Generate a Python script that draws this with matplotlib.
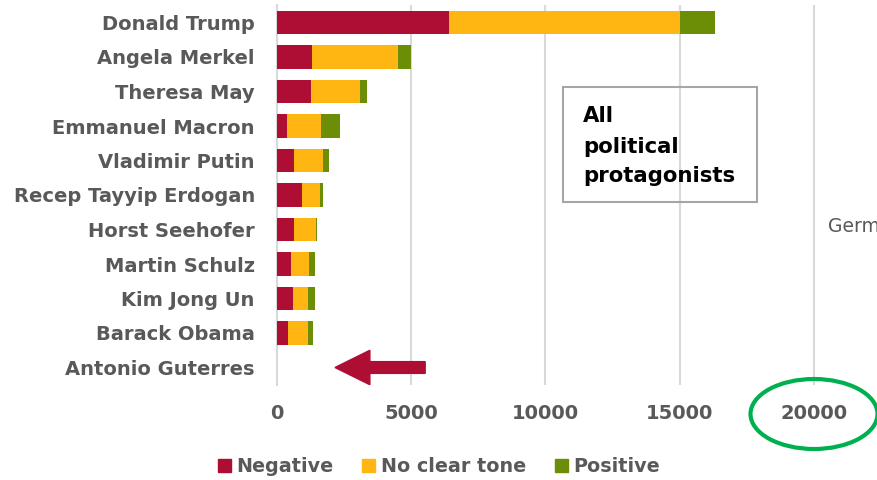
import matplotlib
matplotlib.use('Agg')
import matplotlib.pyplot as plt
from matplotlib.patches import Patch, Ellipse, FancyArrow, Rectangle

names = ['Donald Trump', 'Angela Merkel', 'Theresa May', 'Emmanuel Macron',
         'Vladimir Putin', 'Recep Tayyip Erdogan', 'Horst Seehofer',
         'Martin Schulz', 'Kim Jong Un', 'Barack Obama', 'Antonio Guterres']
negative = [6400, 1300, 1250, 370, 630, 930, 630, 510, 600, 410, 0]
no_tone = [8630, 3190, 1840, 1260, 1080, 690, 810, 700, 550, 730, 0]
positive = [1290, 510, 260, 720, 240, 90, 50, 210, 260, 200, 0]
xticks = [0, 5000, 10000, 15000, 20000]

RED = '#AF0E34'
YELLOW = '#FFB612'
GREEN = '#6B8E06'
GREY = '#595959'
GRID = '#D9D9D9'

plt.rcParams['font.family'] = ['DejaVu Sans']

fig = plt.figure(figsize=(8.77, 4.80), dpi=100)
ax = fig.add_axes([277 / 877, 1 - 384.75 / 480, 600 / 877, 379.5 / 480])

y = list(range(len(names)))
left3 = [a + b for a, b in zip(negative, no_tone)]
ax.barh(y, negative, height=0.67, color=RED, zorder=3)
ax.barh(y, no_tone, left=negative, height=0.67, color=YELLOW, zorder=3)
ax.barh(y, positive, left=left3, height=0.67, color=GREEN, zorder=3)

ax.set_ylim(len(names) - 0.5, -0.5)
ax.set_xlim(0, 22350)
ax.set_yticks(y)
ax.set_yticklabels(names, fontsize=14, fontweight='bold', color=GREY)
ax.set_xticks(xticks)
ax.set_xticklabels([str(t) for t in xticks], fontsize=14, fontweight='bold', color=GREY)
ax.tick_params(axis='y', length=0, pad=16)
ax.tick_params(axis='x', length=0, pad=14)
ax.xaxis.grid(True, color=GRID, linewidth=1.5, zorder=0)
for s in ['top', 'right', 'bottom']:
    ax.spines[s].set_visible(False)
ax.spines['left'].set_color(GRID)
ax.spines['left'].set_linewidth(1.5)

# arrow pointing at the empty row
ax.add_patch(FancyArrow(5520, 10, -3360, 0, width=0.34, head_width=1.0,
                        head_length=1300, length_includes_head=True,
                        color=RED, zorder=4))

# annotation box
fig.patches.append(Rectangle((563 / 877, 1 - 202 / 480), 194 / 877, 115 / 480,
                             transform=fig.transFigure, fill=False,
                             edgecolor='#A6A6A6', linewidth=1.5))
for line, base in zip(['All', 'political', 'protagonists'], [122.5, 153, 182]):
    fig.text(583 / 877, 1 - base / 480, line, ha='left', va='baseline',
             fontsize=15.3, fontweight='bold', color='black')

fig.text(828 / 877, 1 - 226 / 480, 'Germany', ha='left', va='center',
         fontsize=13.5, color=GREY)

fig.patches.append(Ellipse((814 / 877, 1 - 414 / 480), 127 / 877, 70 / 480,
                           transform=fig.transFigure, fill=False,
                           edgecolor='#00B050', linewidth=3))

handles = [Patch(color=RED, label='Negative'),
           Patch(color=YELLOW, label='No clear tone'),
           Patch(color=GREEN, label='Positive')]
leg = fig.legend(handles=handles, loc='center', bbox_to_anchor=(439 / 877, 1 - 467 / 480),
                 ncol=3, frameon=False, handlelength=0.68, handleheight=0.68,
                 handletextpad=0.3, columnspacing=1.5,
                 prop={'size': 13.8, 'weight': 'bold'})
for t in leg.get_texts():
    t.set_color(GREY)

fig.savefig('out.png', dpi=100)
